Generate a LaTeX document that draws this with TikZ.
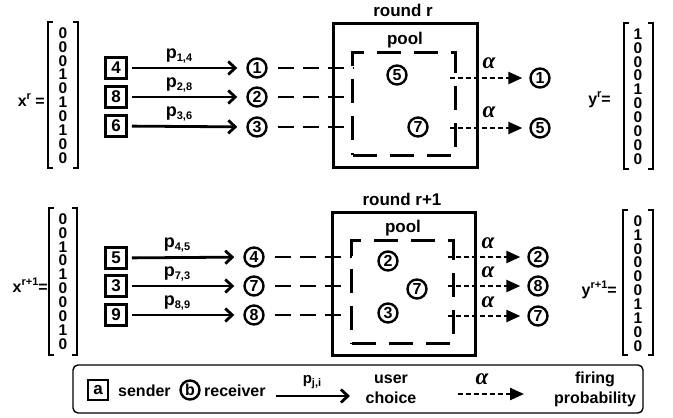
\documentclass[tikz,border=0pt]{standalone}
\usepackage{fontspec}
\setmainfont{Liberation Sans}
\newfontfamily\alfont{Liberation Serif}
\usetikzlibrary{arrows.meta}
\newcommand\myfs[1]{\fontsize{#1}{#1}\selectfont}
\newcommand\mysup[1]{\raisebox{0.45em}{\myfs{11}#1}}
\newcommand\mysub[1]{\raisebox{-0.22em}{\myfs{11}#1}}
\begin{document}
\begin{tikzpicture}[x=1pt,y=-1pt,
  txt/.style={font=\bfseries\myfs{16}, inner sep=0pt},
  big/.style={font=\bfseries\myfs{17}, inner sep=0pt},
  plab/.style={font=\bfseries\myfs{18}, inner sep=0pt},
  sendbox/.style={draw, line width=2.6pt, minimum size=21pt, inner sep=0pt, font=\bfseries\myfs{17}},
  recv/.style={draw, circle, line width=2.4pt, minimum size=19pt, inner sep=0pt, font=\bfseries\myfs{16}},
  usrarrow/.style={line width=2.8pt, -{Straight Barb[length=7pt,width=13pt]}, shorten <=4pt, shorten >=9pt},
  indash/.style={line width=1.4pt, dash pattern=on 16pt off 9pt, shorten <=10pt},
  poolarea/.style={inner sep=0pt},
  pooldash/.style={line width=2.8pt, dash pattern=on 24pt off 13pt},
  firearrow/.style={line width=2.4pt, dash pattern=on 5pt off 3pt, -{Triangle[length=14pt,width=12pt]}, shorten >=7pt},
  roundbox/.style={draw, line width=3pt, inner sep=0pt},
  bracket/.style={line width=1.4pt},
  digits/.style={font=\bfseries\fontsize{15.5}{13.9}\selectfont, inner sep=0pt, align=center},
  alab/.style={font=\alfont\bfseries\itshape\myfs{23}, inner sep=0pt},
]
\useasboundingbox (0,0) rectangle (673,418);

% ================= round r =================
\node[txt, anchor=east] (xrlab) at (45,100) {x\mysup{r} =};
\draw[bracket] (53,22) -- (48,22) -- (48,168) -- (53,168);
\draw[bracket] (73,22) -- (78,22) -- (78,168) -- (73,168);
\node[digits] (xr) at (63,95.5) {0\\0\\0\\1\\0\\1\\0\\1\\0\\0};

\node[sendbox] (s1) at (116,68) {4};
\node[sendbox] (s2) at (116,97) {8};
\node[sendbox] (s3) at (116,126) {6};
\node[recv] (r1) at (257,68) {1};
\node[recv] (r2) at (257,97) {2};
\node[recv] (r3) at (257,127) {3};
\draw[usrarrow] (s1) -- (r1);
\draw[usrarrow] (s2) -- (r2);
\draw[usrarrow] (s3) -- (r3);
\node[plab] (p1) at (179,56) {p\mysub{1,4}};
\node[plab] (p2) at (179,85) {p\mysub{2,8}};
\node[plab] (p3) at (179,114) {p\mysub{3,6}};

\node[roundbox, minimum width=144pt, minimum height=144pt] (boxr) at (405,95) {};
\node[big] (roundr) at (403,10) {round r};
\node[poolarea, minimum width=102pt, minimum height=102pt] (poolr) at (404,104) {};
\draw[pooldash] (poolr.south west) -- (poolr.south east) -- (poolr.north east) -- (poolr.north west) -- cycle;
\node[big] (poollabr) at (405,40) {pool};
\node[recv] (q5) at (397,75) {5};
\node[recv] (q7) at (418,127) {7};
\draw[indash] (r1) -- (r1 -| poolr.west);
\draw[indash] (r2) -- (r2 -| poolr.west);
\draw[indash] (r3) -- (r3 -| poolr.west);

\node[recv] (o1) at (540,78) {1};
\node[recv] (o2) at (540,128) {5};
\coordinate (f1) at (450,78);
\coordinate (f2) at (450,128);
\draw[firearrow] (f1) -- (o1);
\draw[firearrow] (f2) -- (o2);
\node[alab] (a1) at (489,63) {α};
\node[alab] (a2) at (489,112) {α};

\node[txt, anchor=east] (yrlab) at (611,100) {y\mysup{r}=};
\draw[bracket] (629,23) -- (624,23) -- (624,169) -- (629,169);
\draw[bracket] (648,23) -- (653,23) -- (653,169) -- (648,169);
\node[digits] (yr) at (638,96.5) {1\\0\\0\\0\\1\\0\\0\\0\\0\\0};

% ================= round r+1 =================
\node[txt, anchor=east] (xslab) at (48,285) {x\mysup{r+1}=};
\draw[bracket] (54,208) -- (49,208) -- (49,355) -- (54,355);
\draw[bracket] (72,208) -- (77,208) -- (77,355) -- (72,355);
\node[digits] (xs) at (63,281.5) {0\\0\\1\\0\\1\\0\\0\\0\\1\\0};

\node[sendbox] (t1) at (116,258) {5};
\node[sendbox] (t2) at (116,286) {3};
\node[sendbox] (t3) at (116,315) {9};
\node[recv] (u1) at (254,257) {4};
\node[recv] (u2) at (254,286) {7};
\node[recv] (u3) at (254,315) {8};
\draw[usrarrow] (t1) -- (u1);
\draw[usrarrow] (t2) -- (u2);
\draw[usrarrow] (t3) -- (u3);
\node[plab] (p4) at (177,245) {p\mysub{4,5}};
\node[plab] (p5) at (177,274) {p\mysub{7,3}};
\node[plab] (p6) at (177,303) {p\mysub{8,9}};

\node[roundbox, minimum width=143pt, minimum height=143pt] (boxs) at (403.5,283.5) {};
\node[big] (rounds) at (402,199) {round r+1};
\node[poolarea, minimum width=101pt, minimum height=102pt] (pools) at (402.5,292) {};
\draw[pooldash] (pools.south west) -- (pools.south east) -- (pools.north east) -- (pools.north west) -- cycle;
\node[big] (poollabs) at (403,228) {pool};
\node[recv] (w2) at (388,261) {2};
\node[recv] (w7) at (417,289) {7};
\node[recv] (w3) at (388,313) {3};
\draw[indash] (u1) -- (u1 -| pools.west);
\draw[indash] (u2) -- (u2 -| pools.west);
\draw[indash] (u3) -- (u3 -| pools.west);

\node[recv] (v1) at (538,257) {2};
\node[recv] (v2) at (538,286) {8};
\node[recv] (v3) at (538,316) {7};
\coordinate (g1) at (448,257);
\coordinate (g2) at (448,286);
\coordinate (g3) at (448,316);
\draw[firearrow] (g1) -- (v1);
\draw[firearrow] (g2) -- (v2);
\draw[firearrow] (g3) -- (v3);
\node[alab] (b1) at (488,243) {α};
\node[alab] (b2) at (488,272) {α};
\node[alab] (b3) at (488,302) {α};

\node[txt, anchor=east] (yslab) at (617,290) {y\mysup{r+1}=};
\draw[bracket] (628,210) -- (623,210) -- (623,355) -- (628,355);
\draw[bracket] (648,210) -- (653,210) -- (653,355) -- (648,355);
\node[digits] (ys) at (638,283.5) {0\\1\\0\\0\\0\\0\\1\\1\\0\\0};

% ================= legend =================
\node[draw, rounded corners=5pt, line width=1.4pt, minimum width=570pt, minimum height=48pt, inner sep=0pt] (legend) at (358,389) {};
\node[sendbox, minimum size=20pt] (la) at (98,390) {a};
\node[txt, anchor=west] (lsender) at (118,391) {sender};
\node[recv] (lb) at (190,390) {b};
\node[txt, anchor=west] (lrecv) at (204,391) {receiver};
\coordinate (lu1) at (276,396);
\coordinate (lu2) at (350,396);
\draw[usrarrow, shorten <=0pt, shorten >=0pt] (lu1) -- (lu2);
\node[font=\bfseries\myfs{15}, inner sep=0pt] (lp) at (312,382) {p\mysub{j,i}};
\node[txt, align=center, font=\bfseries\fontsize{16}{20}\selectfont] (luser) at (391,389) {user\\choice};
\coordinate (lf1) at (458,394);
\coordinate (lf2) at (524,394);
\draw[firearrow, shorten >=0pt] (lf1) -- (lf2);
\node[alab] (lal) at (482,379) {α};
\node[txt, align=center, font=\bfseries\fontsize{16}{20}\selectfont] (lfire) at (595,389) {firing\\probability};
\end{tikzpicture}
\end{document}
